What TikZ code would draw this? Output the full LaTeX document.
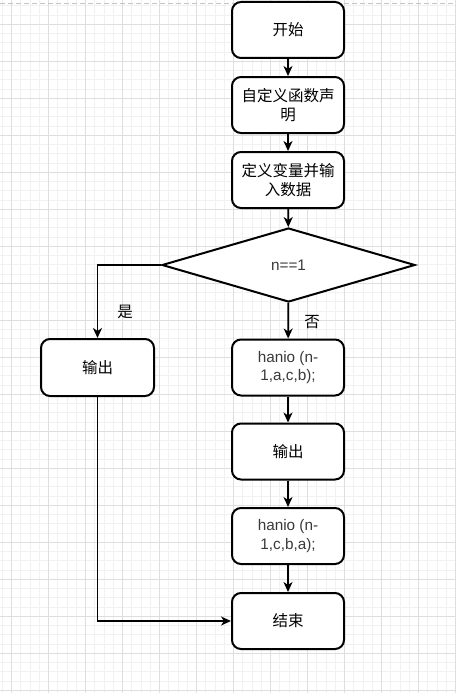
\documentclass[tikz,border=0pt]{standalone}
\usepackage{fontspec}
\setmainfont{Liberation Sans}
\newfontfamily\cjk{Noto Sans CJK SC}
\usetikzlibrary{arrows.meta,positioning,shapes.geometric}
\definecolor{gridmajor}{HTML}{DEDEDE}
\definecolor{gridminor}{HTML}{F1F1F1}
\definecolor{pagebrk}{HTML}{C4C4C4}
\definecolor{latintxt}{HTML}{3A3A3A}

\begin{document}
\begin{tikzpicture}[x=1pt, y=-1pt,
  box/.style={draw, line width=2pt, fill=white, rounded corners=9pt, minimum width=112pt, minimum height=56pt, align=center, inner sep=2pt},
  dec/.style={draw, diamond, line width=2pt, fill=white, minimum width=253pt, minimum height=74pt, inner sep=0pt},
  cn/.style={font=\cjk\fontsize{15.5}{18.5}\selectfont},
  lt/.style={font=\fontsize{15.3}{18.5}\selectfont, text=latintxt},
  arr/.style={-{Stealth[length=10pt, width=9pt, inset=3pt]}, line width=1.8pt},
  lab/.style={font=\cjk\fontsize{15.5}{18.5}\selectfont, inner sep=0pt}
]
\useasboundingbox (0,0) rectangle (456,693);

% background grid
\foreach \i in {0,...,49}
  \draw[gridminor, line width=1pt] (2.45+9.25*\i,0) -- (2.45+9.25*\i,693);
\foreach \i in {0,...,74}
  \draw[gridminor, line width=1pt] (0,5.8+9.25*\i) -- (456,5.8+9.25*\i);
\foreach \i in {0,...,12}
  \draw[gridmajor, line width=1pt] (11.7+37*\i,0) -- (11.7+37*\i,693);
\foreach \i in {0,...,18}
  \draw[gridmajor, line width=1pt] (0,24.3+37*\i) -- (456,24.3+37*\i);
\draw[pagebrk, line width=1pt, dash pattern=on 5pt off 3pt] (0,3.3) -- (456,3.3);

\node[box, cn] (start) at (288,30) {开始};
\node[box, cn] (decl) at (288,105) {自定义函数声\\明};
\node[box, cn] (input) at (288,180) {定义变量并输\\入数据};
\node[dec, lt] (cond) at (288.5,265) {n==1};
\node[box, lt] (han1) at (288,367.5) {hanio (n-\\1,a,c,b);};
\node[box, cn, minimum width=113pt, minimum height=57pt] (outL) at (97.5,367.5) {输出};
\node[box, cn] (outM) at (288,451.5) {输出};
\node[box, lt] (han2) at (288,536) {hanio (n-\\1,c,b,a);};
\node[box, cn] (stop) at (288,621) {结束};

\node[lab] (yes) at (125,312) {是};
\node[lab] (no) at (312,322) {否};

\draw[arr] (start) -- (decl);
\draw[arr] (decl) -- (input);
\draw[arr] (input) -- (cond);
\draw[arr] (cond.west) -| (outL);
\draw[arr] (cond) -- (han1);
\draw[arr] (han1) -- (outM);
\draw[arr] (outM) -- (han2);
\draw[arr] (han2) -- (stop);
\draw[arr] (outL) |- (stop);
\end{tikzpicture}
\end{document}
